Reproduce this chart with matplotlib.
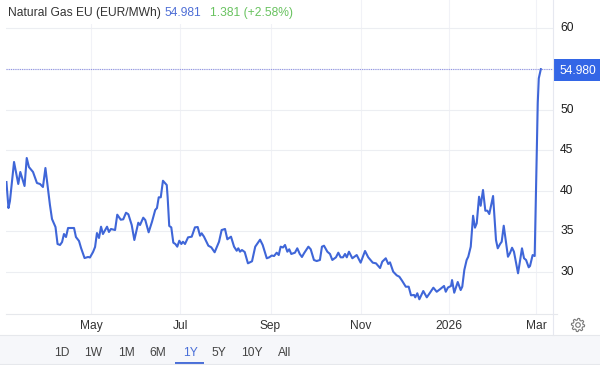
import numpy as np
import pandas as pd
import matplotlib
matplotlib.use("Agg")
import matplotlib.pyplot as plt
from matplotlib.patches import Rectangle, Circle, Polygon

plt.rcParams['font.family'] = ['Liberation Sans', 'DejaVu Sans']

# days since 4 Mar 2025
days = [0.1, 1.5, 2.5, 5.3, 8.2, 9.6, 12.5, 14, 15.5, 18.3, 21, 23.1, 25.1, 26.8, 28.6, 29.9, 31.3, 33.7, 35.1, 36.8,
        38.2, 39.5, 40.9, 42.3, 46.4, 47.7, 49.8, 51.2, 53.6, 56, 57.3, 59.4, 60.8, 62.1, 63.5, 64.9, 66.2, 69, 70.3, 71.7,
        74.5, 76, 78.4, 80.1, 82, 83.6, 85.9, 87.7, 90.4, 91.6, 93.8, 95.2, 97.5, 99.8, 102, 103.2, 104.4, 105.8, 107.3, 109.9,
        110.5, 111.6, 113, 114.4, 115.8, 117.1, 118.5, 119.9, 121, 122.4, 124.5, 127, 129.2, 131.1, 132.7, 133.8, 135.4, 138.4, 140.4, 142.7,
        145.7, 147.5, 149.8, 151.4, 153.9, 156, 157.8, 158.9, 160.1, 161.4, 163.3, 165.5, 168.3, 170.5, 173.8, 175.6, 178.4, 180.1, 181.8, 183.4,
        185.2, 186.6, 187.9, 189.5, 190.9, 192.5, 193.8, 195.2, 197.7, 199.3, 201, 202.5, 203.9, 206.9, 208.5, 210.7, 212.6, 214.8, 216.2, 217.6,
        219.9, 221.7, 223.3, 225.8, 227.4, 229, 230.6, 232, 233.2, 234.7, 237, 240, 242.7, 245.7, 247.9, 251, 253.2, 256, 257.5, 259.9,
        261.6, 262.8, 265, 267.4, 269.2, 271.2, 273.6, 275.6, 277.2, 279.3, 280.1, 281.5, 282.9, 285.6, 288, 290.2, 292.5, 294.8, 297, 299.8,
        301, 302.5, 304.6, 305.3, 306.8, 309.2, 311.2, 312.3, 313.7, 315.3, 316.4, 318.1, 319.7, 321, 322.2, 323.8, 324.9, 326.5, 328.1, 329.5,
        330.8, 333.4, 335.4, 336.6, 338.2, 339.3, 340.7, 342.3, 343.6, 345, 346.4, 347.7, 350.5, 353.2, 354.6, 356, 357.8, 358.7, 360.5, 361.9,
        364, 364.7, 366.1]
prices = [41.08, 37.88, 38.74, 43.55, 40.84, 42.32, 40.59, 44.04, 42.93, 42.32, 40.96, 40.84, 40.47, 42.81, 40.1, 38.25, 36.53, 35.54, 33.45, 33.33,
          33.69, 34.68, 34.31, 35.42, 35.42, 34.31, 33.82, 32.96, 31.72, 31.85, 31.79, 32.46, 33.08, 34.8, 34.19, 35.58, 34.68, 35.58, 34.93, 35.3,
          35.17, 37.06, 36.44, 36.49, 37.3, 37.11, 35.79, 33.94, 36.07, 35.79, 36.69, 36.4, 34.89, 36.19, 37.64, 37.88, 39.2, 39.2, 41.24, 40.71,
          39.24, 35.67, 35.5, 33.61, 33.45, 33.12, 33.85, 33.45, 33.73, 33.45, 34.27, 34.35, 35.5, 35.54, 34.47, 34.77, 34.35, 33.24, 33.04, 32.43,
          33.73, 35.17, 35.3, 34.03, 34.35, 33.12, 32.62, 32.92, 32.5, 32.71, 32.46, 31.07, 31.32, 33.12, 33.98, 33.33, 31.69, 31.81, 32.03, 31.97,
          32.38, 32.09, 33.12, 33.02, 33.33, 32.5, 32.8, 32.22, 32.38, 32.92, 32.22, 31.85, 32.3, 33.12, 32.8, 31.48, 31.35, 31.48, 33.12, 33.24,
          32.5, 32.22, 31.48, 31.81, 32.38, 31.81, 31.81, 32.22, 31.81, 32.5, 31.69, 32.09, 31.15, 32.59, 31.81, 31.15, 31.07, 30.49, 31.27, 31.69,
          30.99, 31.19, 30.04, 29.59, 29.42, 28.89, 28.19, 28.19, 27.13, 27.17, 26.88, 27.38, 26.64, 27.66, 26.88, 27.45, 28.07, 27.57, 27.87, 28.28,
          27.57, 28.09, 28.28, 29.01, 27.45, 28.77, 27.78, 28.19, 30.25, 31.48, 31.88, 33.12, 36.93, 35.46, 36, 39.27, 38.16, 40.1, 37.55, 37.55,
          37.14, 39.36, 33.94, 32.92, 33.45, 33.73, 35.7, 33.57, 31.88, 32.34, 32.99, 32.5, 29.84, 32.92, 31.69, 31.48, 30.58, 30.74, 32.09, 31.97,
          50.81, 53.85, 54.98]

y_ticks = [30, 35, 40, 45, 50, 60]
grid_levels = [30, 35, 40, 45, 50, 55, 60]
x_tick_dates = ['2025-05-01', '2025-07-01', '2025-09-01', '2025-11-02', '2026-01-01', '2026-03-02']
x_tick_labels = ['May', 'Jul', 'Sep', 'Nov', '2026', 'Mar']
last_price = 54.98
range_labels = ['1D', '1W', '1M', '6M', '1Y', '5Y', '10Y', 'All']

W, H = 600, 365
start = pd.Timestamp('2025-03-04')
dates = start + pd.to_timedelta(days, unit='D')

fig = plt.figure(figsize=(6, 3.65), dpi=100, facecolor='white')
ax = fig.add_axes([6 / W, (H - 313.5) / H, 546.5 / W, 313.5 / H])
ax.plot(dates, prices, color='#3f66d8', linewidth=1.5, solid_joinstyle='round', zorder=4)
ax.axhline(last_price, color='#8f91e6', linewidth=0.8, linestyle=(0, (1, 1)), zorder=3)
ax.set_ylim(24.89, 63.5)
ax.set_xlim(start - pd.Timedelta(days=0.2), start + pd.Timedelta(days=374.1))

ax.set_yticks(grid_levels)
ax.set_yticklabels(['' if v not in y_ticks else str(v) for v in grid_levels], va='center')
ax.yaxis.tick_right()
ax.set_xticks(pd.to_datetime(x_tick_dates))
ax.set_xticklabels(x_tick_labels)
ax.tick_params(axis='y', length=0, pad=5.5, labelsize=8.64, labelcolor='#1c1c1c')
ax.tick_params(axis='x', length=0, pad=4.5, labelsize=8.64, labelcolor='#333333')
ax.grid(axis='y', color='#eceef2', linewidth=0.8)
ax.grid(axis='x', color='#f1f2f7', linewidth=0.8)
ax.set_axisbelow(True)
for s in ax.spines.values():
    s.set_visible(False)

# header, price tag and range bar drawn in pixel coordinates
over = fig.add_axes([0, 0, 1, 1], zorder=5)
over.set_xlim(0, W)
over.set_ylim(H, 0)
over.axis('off')
over.add_patch(Rectangle((0, 0), 300, 24, color='white', lw=0))
over.plot([6, 556.5], [313.5, 313.5], color='#e6e8ec', lw=0.8)
over.plot([552.5, 552.5], [0, 335], color='#e6e8f0', lw=0.8)
over.add_patch(Rectangle((0, 335), W, 29, facecolor='#f6f7fa', edgecolor='none'))
over.plot([0, W], [335, 335], color='#e6e8ec', lw=0.8)
over.plot([0, W], [364, 364], color='#e6e8ec', lw=0.8)

over.text(8, 12.7, 'Natural Gas EU (EUR/MWh)', fontsize=8.64, color='#333333', va='center')
over.text(164.3, 12.7, '54.981', fontsize=8.64, color='#4f6fd6', va='center')
over.text(209.5, 12.7, '1.381 (+2.58%)', fontsize=8.64, color='#68c25f', va='center')

over.add_patch(Rectangle((552.5, 59.3), 47.5, 22, facecolor='#3366e6', edgecolor='none'))
over.text(559.3, 71, '54.980', fontsize=8.64, color='white', va='center')

btn_x = [62, 93, 126, 158, 190, 219, 252, 284.7]
for lab, bx in zip(range_labels, btn_x):
    col = '#4a6fd8' if lab == '1Y' else '#444444'
    over.text(bx, 352.7, lab, fontsize=8.64, color=col, ha='center', va='center')
over.add_patch(Rectangle((175, 361.7), 29, 2, facecolor='#4a6fd8', edgecolor='none'))

# settings gear
gx, gy = 578, 325
ang = np.linspace(0, 2 * np.pi, 48, endpoint=False)
rad = np.where((np.arange(48) % 6) < 3, 6.6, 5.0)
over.add_patch(Polygon(np.c_[gx + rad * np.cos(ang), gy + rad * np.sin(ang)], closed=True,
                       fill=False, edgecolor='#777777', lw=0.8))
over.add_patch(Circle((gx, gy), 2.3, fill=False, edgecolor='#777777', lw=0.8))

fig.savefig('out.png', dpi=100)
